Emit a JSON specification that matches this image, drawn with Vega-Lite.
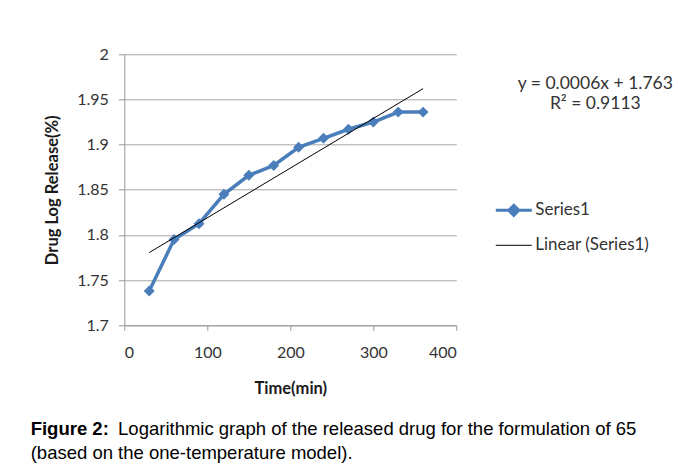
{
  "$schema": "https://vega.github.io/schema/vega-lite/v6.json",
  "width": 332,
  "height": 271,
  "autosize": {"type": "none"},
  "padding": {"left": 124.3, "top": 54.3, "right": 221.7, "bottom": 149.7},
  "background": "white",
  "config": {
    "view": {"stroke": null},
    "axis": {
      "labelFont": "Lato", "labelFontSize": 16, "labelColor": "#333333",
      "titleFont": "Lato", "titleFontSize": 16.5, "titleFontWeight": "bold", "titleColor": "#1a1a1a",
      "domainColor": "#999999", "tickColor": "#999999", "gridColor": "#a6a6a6"
    }
  },
  "title": {
    "text": "Figure 2:",
    "subtitle": ["\u200b\u00a0\u00a0\u00a0\u00a0\u00a0\u00a0\u00a0\u00a0\u00a0\u00a0\u00a0\u00a0\u00a0\u00a0\u00a0\u00a0\u00a0Logarithmic graph of the released drug for the formulation of 65", "(based on the one-temperature model)."],
    "orient": "bottom", "anchor": "start", "frame": "bounds", "offset": 23, "dx": -14,
    "font": "Liberation Sans", "fontSize": 18.5, "fontWeight": "bold", "color": "#000000",
    "subtitleFont": "Liberation Sans", "subtitleFontSize": 18.5, "subtitleColor": "#000000",
    "subtitlePadding": -18.5, "subtitleLineHeight": 24
  },
  "data": {
    "values": [
      {"t": 30, "v": 1.738, "s": "Series1"},
      {"t": 60, "v": 1.795, "s": "Series1"},
      {"t": 90, "v": 1.8125, "s": "Series1"},
      {"t": 120, "v": 1.845, "s": "Series1"},
      {"t": 150, "v": 1.866, "s": "Series1"},
      {"t": 180, "v": 1.877, "s": "Series1"},
      {"t": 210, "v": 1.897, "s": "Series1"},
      {"t": 240, "v": 1.907, "s": "Series1"},
      {"t": 270, "v": 1.917, "s": "Series1"},
      {"t": 300, "v": 1.925, "s": "Series1"},
      {"t": 330, "v": 1.936, "s": "Series1"},
      {"t": 360, "v": 1.936, "s": "Series1"},
      {"t": 30, "v": 1.7805, "s": "Linear (Series1)"},
      {"t": 360, "v": 1.962, "s": "Linear (Series1)"}
    ]
  },
  "encoding": {
    "x": {
      "field": "t", "type": "quantitative",
      "scale": {"domain": [0, 400], "nice": false},
      "axis": {"values": [0, 100, 200, 300, 400], "grid": false, "tickSize": 5, "labelPadding": 14, "title": "Time(min)", "titlePadding": 20}
    },
    "y": {
      "field": "v", "type": "quantitative",
      "scale": {"domain": [1.7, 2], "nice": false, "zero": false},
      "axis": {"values": [1.7, 1.75, 1.8, 1.85, 1.9, 1.95, 2], "format": ".2~f", "grid": true, "tickSize": 6, "labelPadding": 10, "title": "Drug Log Release(%)", "titlePadding": 16}
    }
  },
  "layer": [
    {
      "transform": [{"filter": "datum.s === 'Series1'"}],
      "mark": {"type": "line", "strokeWidth": 3.5},
      "encoding": {
        "color": {
          "field": "s", "type": "nominal",
          "scale": {"domain": ["Series1", "Linear (Series1)"], "range": ["#4a7ebb", "#000000"]},
          "legend": {
            "title": ["y = 0.0006x + 1.763", "R² = 0.9113"],
            "orient": "right", "offset": 17, "padding": 21,
            "titleFont": "Lato", "titleFontSize": 17.5, "titleFontWeight": "normal", "titleColor": "#333333",
            "titleAlign": "center", "titleAnchor": "middle", "titleLineHeight": 20, "titlePadding": 89,
            "labelFont": "Lato", "labelFontSize": 17, "labelColor": "#333333", "labelOffset": 13, "labelLimit": 300,
            "symbolOffset": 11,
            "rowPadding": 14, "symbolSize": 1296, "symbolStrokeWidth": 3,
            "encode": {
              "title": {"update": {"dx": {"value": 24}}},
              "symbols": {"update": {
                "shape": {"signal": "datum.value === 'Series1' ? 'M-1,0H1M0,-0.28L0.28,0L0,0.28L-0.28,0Z' : 'M-1,0H1'"},
                "fill": {"signal": "datum.value === 'Series1' ? '#4a7ebb' : 'transparent'"},
                "strokeWidth": {"signal": "datum.value === 'Series1' ? 3 : 1"},
                "opacity": {"value": 1}
              }}
            }
          }
        }
      }
    },
    {
      "transform": [{"filter": "datum.s === 'Series1'"}],
      "mark": {"type": "point", "shape": "diamond", "filled": true, "size": 120, "opacity": 1, "color": "#4a7ebb"}
    },
    {
      "transform": [{"filter": "datum.s !== 'Series1'"}],
      "mark": {"type": "line", "strokeWidth": 1},
      "encoding": {
        "color": {"field": "s", "type": "nominal"}
      }
    }
  ]
}
